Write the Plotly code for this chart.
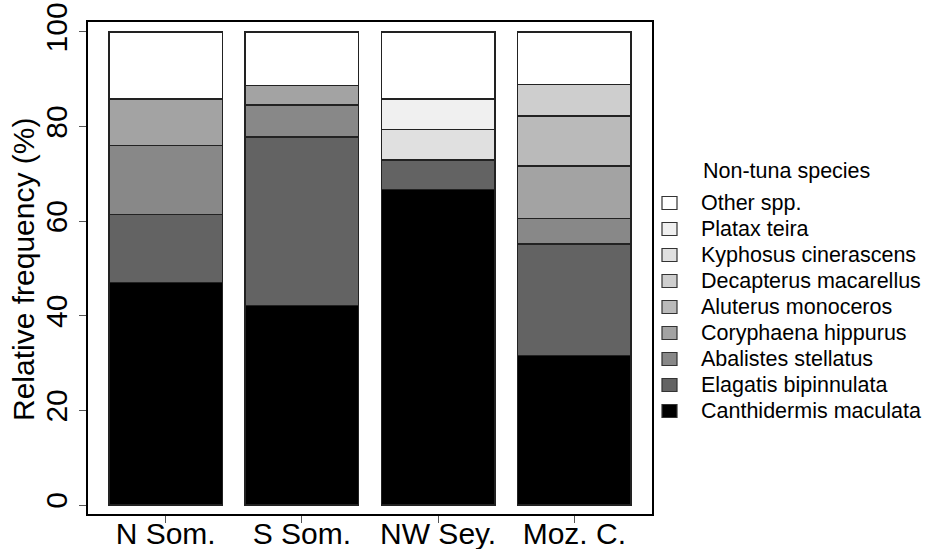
import plotly.graph_objects as go

# ---- data ----
regions = ["N Som.", "S Som.", "NW Sey.", "Moz. C."]
species = ["Canthidermis maculata", "Elagatis bipinnulata", "Abalistes stellatus",
           "Coryphaena hippurus", "Aluterus monoceros", "Decapterus macarellus",
           "Kyphosus cinerascens", "Platax teira", "Other spp."]
canthidermis = [47.0, 42.2, 66.7, 31.6]
elagatis     = [14.4, 35.6, 6.2, 23.6]
abalistes    = [14.6, 6.8, 0.0, 5.4]
coryphaena   = [9.8, 4.1, 0.0, 11.1]
aluterus     = [0.0, 0.0, 0.0, 10.5]
decapterus   = [0.0, 0.0, 0.0, 6.7]
kyphosus     = [0.0, 0.0, 6.5, 0.0]
platax       = [0.0, 0.0, 6.4, 0.0]
other        = [14.2, 11.3, 14.2, 11.1]
series = [canthidermis, elagatis, abalistes, coryphaena, aluterus,
          decapterus, kyphosus, platax, other]
colors = ["#000000", "#636363", "#888888", "#a3a3a3", "#bababa",
          "#cecece", "#e0e0e0", "#f0f0f0", "#ffffff"]
yticks = [0, 20, 40, 60, 80, 100]

# bar positions as in R barplot (width 1, space 0.2)
xpos = [0.7 + 1.2 * i for i in range(len(regions))]

W, H = 934, 549
ML, MR, MT, MB = 88, 282, 22, 35
FONT = "Liberation Sans, Arial, Helvetica, sans-serif"
AXF = 30

fig = go.Figure()
for name, vals, col in zip(species, series, colors):
    fig.add_trace(go.Bar(
        x=xpos, y=vals, width=1.0, name=name, showlegend=False,
        marker=dict(color=col, line=dict(color="#222222", width=1.5)),
    ))

fig.update_layout(
    template="none",
    width=W, height=H, barmode="stack",
    margin=dict(l=ML, r=MR, t=MT, b=MB, pad=0),
    paper_bgcolor="white", plot_bgcolor="white",
    font=dict(family=FONT, color="black", size=AXF),
    xaxis=dict(range=[0.016, 4.984], tickvals=xpos, ticktext=regions,
               ticks="outside", ticklen=7, tickwidth=1, tickcolor="#555",
               showline=True, mirror=True, linecolor="black", linewidth=1.5,
               showgrid=False, zeroline=False, automargin=False,
               ticklabelstandoff=-15,
               tickfont=dict(size=AXF)),
    yaxis=dict(range=[-1.9, 102.1], tickvals=yticks, ticktext=[str(v) for v in yticks],
               ticks="outside", ticklen=7, tickwidth=1, tickcolor="#555",
               tickangle=-90, automargin=False,
               showline=True, mirror=True, linecolor="black", linewidth=1.5,
               showgrid=False, zeroline=False, tickfont=dict(size=AXF)),
)

# ---- pixel -> paper helpers for text placed outside the plot area ----
pw = W - ML - MR
ph = H - MT - MB
def px(x):
    return (x - ML) / pw
def py(y):
    return 1 - (y - MT) / ph

# y-axis title
fig.add_annotation(x=px(23), y=py(270), xref="paper", yref="paper",
                   text="Relative frequency (%)", showarrow=False, textangle=-90,
                   xanchor="center", yanchor="middle",
                   font=dict(size=AXF, family=FONT, color="black"))

# legend
fig.add_annotation(x=px(701), y=py(171), xref="paper", yref="paper",
                   text="Non-tuna species", showarrow=False,
                   xanchor="left", yanchor="middle",
                   font=dict(size=21.5, family=FONT, color="black"))
order = list(range(len(species)))[::-1]
for k, i in enumerate(order):
    yc = 203 + 26 * k
    fig.add_shape(type="rect", xref="paper", yref="paper",
                  x0=px(662), x1=px(677), y0=py(yc - 6.5), y1=py(yc + 6.5),
                  fillcolor=colors[i], line=dict(color="#333333", width=1.2))
    fig.add_annotation(x=px(699), y=py(yc), xref="paper", yref="paper",
                       text=species[i], showarrow=False,
                       xanchor="left", yanchor="middle",
                       font=dict(size=21.5, family=FONT, color="black"))

fig.write_html("out.html")
